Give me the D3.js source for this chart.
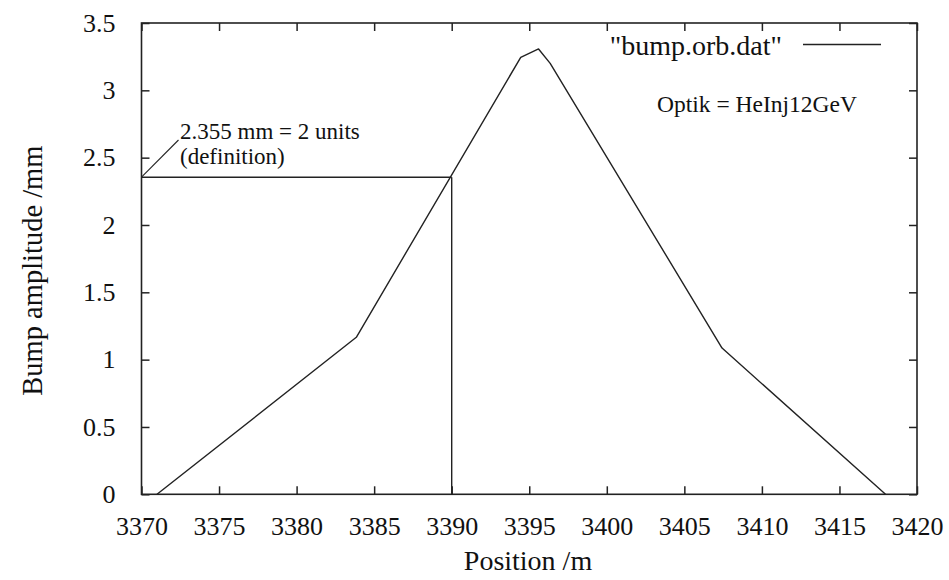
<!DOCTYPE html>
<html>
<head>
<meta charset="utf-8">
<script src="https://cdn.jsdelivr.net/npm/d3@7"></script>
<style>
  html, body { margin: 0; padding: 0; background: #fff; }
</style>
</head>
<body>
<svg id="chart" width="949" height="580"></svg>
<script>
// ---- data ----
const positions = [3371.0, 3383.85, 3394.45, 3395.6, 3396.35, 3407.43, 3417.97];
const amplitudes = [0, 1.166, 3.245, 3.307, 3.20, 1.086, 0];
const xTicks = [3370, 3375, 3380, 3385, 3390, 3395, 3400, 3405, 3410, 3415, 3420];
const yTicks = [0, 0.5, 1, 1.5, 2, 2.5, 3, 3.5];
const yTickLabels = ["0", "0.5", "1", "1.5", "2", "2.5", "3", "3.5"];
const seriesName = "\"bump.orb.dat\"";
const markerPos = [3390];
const markerAmp = [2.355];
const noteLines = ["2.355 mm = 2 units", "(definition)"];
const optikText = "Optik = HeInj12GeV";
const xLabel = "Position /m";
const yLabel = "Bump amplitude /mm";

// ---- layout ----
const L = 141.5, R = 917, T = 23, B = 494.3;
const FONT = "'Liberation Serif'";
const svg = d3.select("#chart");
svg.append("rect").attr("width", 949).attr("height", 580).attr("fill", "#fff");

const x = d3.scaleLinear().domain([3370, 3420]).range([L, R]);
const y = d3.scaleLinear().domain([0, 3.5]).range([B, T]);
const tickLen = 8;
const axisColor = "#222";

// frame
svg.append("rect").attr("x", L).attr("y", T).attr("width", R - L).attr("height", B - T)
  .attr("fill", "none").attr("stroke", axisColor).attr("stroke-width", 1.6);

// axes (inward ticks, mirrored)
const gx = svg.append("g").attr("transform", `translate(0,${B})`)
  .call(d3.axisBottom(x).tickValues(xTicks).tickSizeInner(-tickLen).tickSizeOuter(0).tickPadding(22).tickFormat(d3.format("d")));
const gxTop = svg.append("g").attr("transform", `translate(0,${T})`)
  .call(d3.axisTop(x).tickValues(xTicks).tickSizeInner(-tickLen).tickSizeOuter(0).tickFormat(""));
const gy = svg.append("g").attr("transform", `translate(${L},0)`)
  .call(d3.axisLeft(y).tickValues(yTicks).tickSizeInner(-tickLen).tickSizeOuter(0).tickPadding(26)
    .tickFormat((d, i) => yTickLabels[i]));
const gyR = svg.append("g").attr("transform", `translate(${R},0)`)
  .call(d3.axisRight(y).tickValues(yTicks).tickSizeInner(-tickLen).tickSizeOuter(0).tickFormat(""));

[gx, gxTop, gy, gyR].forEach(g => {
  g.attr("font-family", null).attr("font-size", null);
  g.select(".domain").remove();
  g.selectAll(".tick line").attr("stroke", axisColor).attr("stroke-width", 1.5);
  g.selectAll("text").style("font-family", FONT).style("font-size", "26px").attr("fill", "#111");
});

// marker lines at 3390 / 2.355
svg.append("line").attr("x1", L).attr("x2", x(markerPos[0]))
  .attr("y1", y(markerAmp[0])).attr("y2", y(markerAmp[0]))
  .attr("stroke", axisColor).attr("stroke-width", 1.4);
svg.append("line").attr("x1", x(markerPos[0])).attr("x2", x(markerPos[0]))
  .attr("y1", y(markerAmp[0])).attr("y2", B)
  .attr("stroke", axisColor).attr("stroke-width", 1.4);
// leader line to note
svg.append("line").attr("x1", L).attr("y1", y(markerAmp[0]))
  .attr("x2", 178.5).attr("y2", 140)
  .attr("stroke", axisColor).attr("stroke-width", 1.1);
const txt = (xx, yy, size, s, anchor) => svg.append("text")
  .attr("x", xx).attr("y", yy)
  .attr("text-anchor", anchor || "start")
  .style("font-family", FONT).style("font-size", size + "px").attr("fill", "#111").text(s);
txt(180, 139, 23, noteLines[0]);
txt(180, 164, 23, noteLines[1]);

// data line
const line = d3.line().x((d, i) => x(positions[i])).y((d, i) => y(amplitudes[i]));
svg.append("path").datum(positions).attr("d", line)
  .attr("fill", "none").attr("stroke", "#222").attr("stroke-width", 1.4).attr("stroke-linejoin", "round");

// legend
txt(782, 55, 28, seriesName, "end");
svg.append("line").attr("x1", 803).attr("x2", 881).attr("y1", 44.5).attr("y2", 44.5)
  .attr("stroke", "#222").attr("stroke-width", 1.4);
txt(657, 111.5, 23.5, optikText);

// axis titles
txt(528, 570, 28, xLabel, "middle");
svg.append("text").attr("transform", `translate(42,${(T + B) / 2 + 12}) rotate(-90)`)
  .attr("text-anchor", "middle").style("font-size", "28.5px")
  .style("font-family", FONT).attr("fill", "#111").text(yLabel);
</script>
</body>
</html>
